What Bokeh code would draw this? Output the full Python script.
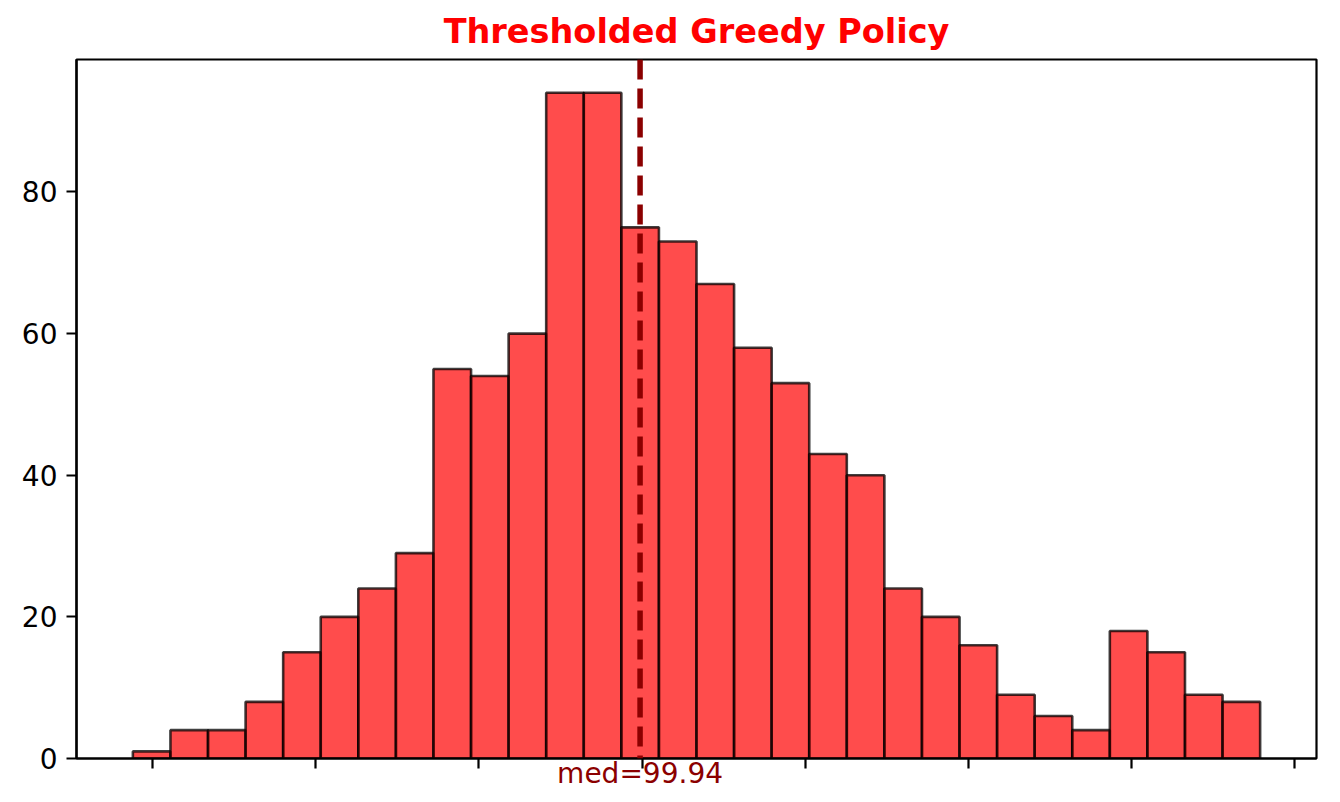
import numpy as np
from bokeh.plotting import figure
from bokeh.models import Span, FixedTicker, Range1d
from bokeh.embed import file_html
from bokeh.resources import INLINE

# ---- data ----
counts = [1, 4, 4, 8, 15, 20, 24, 29, 55, 54, 60, 94, 94, 75, 73, 67, 58, 53,
          43, 40, 24, 20, 16, 9, 6, 4, 18, 15, 9, 8]
data_min = 84.39
data_max = 118.95
median = 99.94
x_ticks = [85, 90, 95, 100, 105, 110, 115, 120]
y_ticks = [0, 20, 40, 60, 80]
title_text = "Thresholded Greedy Policy"
median_label = f"med={median:.2f}"

edges = np.linspace(data_min, data_max, len(counts) + 1)
span = data_max - data_min

p = figure(width=1332, height=794, output_backend="svg", toolbar_location=None,
           x_range=Range1d(data_min - 0.05 * span, data_max + 0.05 * span),
           y_range=Range1d(0, max(counts) * 1.05),
           min_border_left=76, min_border_right=16, min_border_top=59,
           min_border_bottom=36)

p.quad(left=edges[:-1], right=edges[1:], bottom=0, top=counts,
       fill_color="red", fill_alpha=0.7, line_color="black", line_alpha=0.75,
       line_width=2.6)

p.add_layout(Span(location=median, dimension="height", line_color="#8B0000",
                  line_width=5.5, line_dash="20 9"))

# title
p.title.text = title_text
p.title.align = "center"
p.title.text_color = "red"
p.title.text_font = "DejaVu Sans"
p.title.text_font_style = "bold"
p.title.text_font_size = "33.5px"
p.title.standoff = 18

p.grid.visible = False
p.outline_line_color = "black"
p.outline_line_width = 2.2
p.outline_line_alpha = 1.0
p.background_fill_color = "white"
p.border_fill_color = "white"

for ax in (p.xaxis[0], p.yaxis[0]):
    ax.axis_line_width = 2.2
    ax.major_tick_line_width = 2.2
    ax.major_tick_out = 10
    ax.major_tick_in = 0
    ax.minor_tick_line_color = None
    ax.major_label_text_font = "DejaVu Sans"
    ax.major_label_text_font_size = "28px"
    ax.major_label_text_color = "black"

# x axis: unlabeled tick marks (as minor ticks) plus the median annotation (as the only labeled tick)
xa = p.xaxis[0]
xa.ticker = FixedTicker(ticks=[median], minor_ticks=x_ticks)
xa.major_tick_line_color = None
xa.major_tick_out = 0
xa.minor_tick_line_color = "black"
xa.minor_tick_line_width = 2.2
xa.minor_tick_out = 10
xa.minor_tick_in = 0
xa.major_label_overrides = {median: median_label}
xa.major_label_text_color = "#8B0000"
xa.major_label_standoff = -12

p.yaxis.ticker = FixedTicker(ticks=y_ticks)
p.yaxis.major_label_standoff = 9

open("out.html", "w").write(file_html(p, INLINE))
